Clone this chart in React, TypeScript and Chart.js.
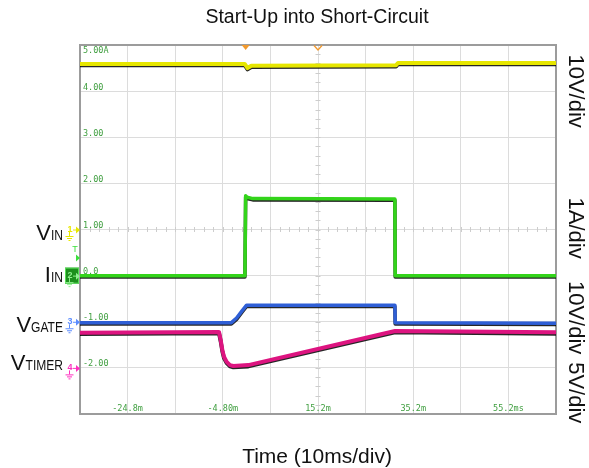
import React, { useEffect, useRef } from "react";
import { Chart, registerables } from "chart.js";

Chart.register(...registerables);

// ---------- data (time in ms, amplitude in screen divisions of the 1A/div channel) ----------
const title = "Start-Up into Short-Circuit";
const xAxisTitle = "Time (10ms/div)";

const xMin = -34.8;
const xMax = 65.2;
const yMin = -3;
const yMax = 5;

const xGridValues = [-34.8, -24.8, -14.8, -4.8, 5.2, 15.2, 25.2, 35.2, 45.2, 55.2, 65.2];
const xTickValues = [-24.8, -4.8, 15.2, 35.2, 55.2];
const xTickLabels = ["-24.8m", "-4.80m", "15.2m", "35.2m", "55.2ms"];
const yTickValues = [5, 4, 3, 2, 1, 0, -1, -2];
const yTickLabels = ["5.00A", "4.00", "3.00", "2.00", "1.00", "0.0", "-1.00", "-2.00"];

const rightLabels = ["10V/div", "1A/div", "10V/div", "5V/div"];
const rightLabelLevels = [4.0, 1.03, -0.91, -2.54];

const vinTime = [-34.8, -0.2, 0.4, 1.2, 31.6, 32.0, 65.2];
const vinValues = [4.59, 4.59, 4.5, 4.55, 4.56, 4.61, 4.61];

const iinTime = [-34.8, -0.15, 0.0, 0.3, 1.5, 31.35, 31.42, 65.2];
const iinValues = [0.0, 0.0, 1.73, 1.7, 1.67, 1.66, 0.0, 0.0];

const vgateTime = [-34.8, -3.0, -1.9, -0.8, 0.2, 31.35, 31.42, 65.2];
const vgateValues = [-1.02, -1.02, -0.92, -0.77, -0.64, -0.64, -1.02, -1.03];

const vtimerTime = [-34.8, -5.6, -5.24, -4.9, -4.55, -3.98, -3.29, -2.59, 0.56, 31.38, 65.2];
const vtimerValues = [-1.24, -1.22, -1.4, -1.61, -1.76, -1.87, -1.94, -1.96, -1.94, -1.2, -1.23];

const channelNames = ["1", "2", "3", "4"];
const channelLevels = [1, 0, -1, -2];
const triggerLevel = 0.38;
const triggerTime = 0;
const centerTime = 15.2;

// ---------- styles ----------
const FONT = '"Liberation Sans", Arial, Helvetica, sans-serif';
const MONO = '"DejaVu Sans Mono", "Liberation Mono", monospace';
const YELLOW = "#e6e600";
const GREEN = "#33d41a";
const BLUE = "#2f5fd6";
const MAGENTA = "#dd1480";
const channelColors = ["#e8e800", "#22bb22", "#5b8cff", "#ff30c0"];
const LABEL_GREEN = "#3f9e3f";

const traceShadow = {
  id: "traceShadow",
  beforeDatasetDraw(chart: any) {
    const c = chart.ctx;
    c.save();
    c.shadowColor = "rgba(0,0,0,0.85)";
    c.shadowOffsetX = 0;
    c.shadowOffsetY = 1.3;
    c.shadowBlur = 0;
  },
  afterDatasetDraw(chart: any) {
    chart.ctx.restore();
  },
};

function drawSubLabel(ctx: CanvasRenderingContext2D, main: string, sub: string, rightX: number, baseline: number) {
  ctx.save();
  ctx.fillStyle = "#111";
  ctx.textBaseline = "alphabetic";
  ctx.textAlign = "left";
  const sx = 0.86;
  ctx.font = `22px ${FONT}`;
  const wm = ctx.measureText(main).width;
  ctx.font = `14px ${FONT}`;
  const ws = ctx.measureText(sub).width * sx;
  const start = rightX - wm - ws;
  ctx.font = `22px ${FONT}`;
  ctx.fillText(main, start, baseline);
  ctx.font = `14px ${FONT}`;
  ctx.translate(start + wm, baseline);
  ctx.scale(sx, 1);
  ctx.fillText(sub, 0, 0);
  ctx.restore();
}

function drawGround(ctx: CanvasRenderingContext2D, x: number, y: number) {
  ctx.beginPath();
  ctx.moveTo(x, y);
  ctx.lineTo(x, y + 4);
  ctx.moveTo(x - 4, y + 4.5);
  ctx.lineTo(x + 4, y + 4.5);
  ctx.moveTo(x - 2.5, y + 6.5);
  ctx.lineTo(x + 2.5, y + 6.5);
  ctx.moveTo(x - 1, y + 8.5);
  ctx.lineTo(x + 1, y + 8.5);
  ctx.stroke();
}

const decor = {
  id: "scopeDecor",
  beforeDatasetsDraw(chart: any) {
    const { ctx, chartArea: a, scales } = chart;
    const xs = scales.x;
    const ys = scales.y;
    ctx.save();
    // minor ticks on the centre lines
    const cx = xs.getPixelForValue(centerTime);
    const cy = ys.getPixelForValue(1);
    ctx.strokeStyle = "#cdcdcd";
    ctx.lineWidth = 1;
    ctx.beginPath();
    const w = a.right - a.left;
    const h = a.bottom - a.top;
    for (let i = 1; i < 50; i++) {
      const px = Math.round(a.left + (i * w) / 50) + 0.5;
      ctx.moveTo(px, cy - 2.5);
      ctx.lineTo(px, cy + 2.5);
    }
    for (let j = 1; j < 40; j++) {
      const py = Math.round(a.top + (j * h) / 40) + 0.5;
      ctx.moveTo(cx - 2.5, py);
      ctx.lineTo(cx + 2.5, py);
    }
    ctx.stroke();
    // frame
    ctx.strokeStyle = "#9c9c9c";
    ctx.lineWidth = 2;
    ctx.strokeRect(a.left, a.top, w, h);
    // green scale labels
    ctx.fillStyle = LABEL_GREEN;
    ctx.font = `8.5px ${MONO}`;
    ctx.textAlign = "left";
    ctx.textBaseline = "alphabetic";
    yTickValues.forEach((v, i) => {
      const py = ys.getPixelForValue(v);
      const base = i === 0 ? py + 8 : py - 1.5;
      ctx.fillText(yTickLabels[i], a.left + 3, base);
    });
    ctx.textAlign = "center";
    xTickValues.forEach((v, i) => {
      ctx.fillText(xTickLabels[i], xs.getPixelForValue(v), a.bottom - 3);
    });
    ctx.restore();
  },
  afterDraw(chart: any) {
    const { ctx, chartArea: a, scales } = chart;
    const xs = scales.x;
    const ys = scales.y;
    ctx.save();
    // trigger markers on top
    const tx = xs.getPixelForValue(triggerTime);
    ctx.fillStyle = "#f29a2e";
    ctx.beginPath();
    ctx.moveTo(tx - 4, a.top);
    ctx.lineTo(tx + 4, a.top);
    ctx.lineTo(tx, a.top + 5);
    ctx.closePath();
    ctx.fill();
    const mx = xs.getPixelForValue(centerTime);
    ctx.strokeStyle = "#f29a2e";
    ctx.lineWidth = 1.3;
    ctx.beginPath();
    ctx.moveTo(mx - 4, a.top + 0.5);
    ctx.lineTo(mx, a.top + 5);
    ctx.lineTo(mx + 4, a.top + 0.5);
    ctx.stroke();

    // channel markers
    channelNames.forEach((name, i) => {
      const py = ys.getPixelForValue(channelLevels[i]);
      const col = channelColors[i];
      if (i === 1) {
        ctx.fillStyle = "#1d8f1d";
        ctx.fillRect(a.left - 15, py - 8, 14, 16);
        ctx.strokeStyle = "#56e056";
        ctx.lineWidth = 1;
        ctx.strokeRect(a.left - 14.5, py - 7.5, 13, 15);
      }
      const fg = i === 1 ? "#8ff08f" : col;
      ctx.fillStyle = fg;
      ctx.strokeStyle = fg;
      ctx.lineWidth = 1;
      ctx.font = `bold 9px ${FONT}`;
      ctx.textAlign = "center";
      ctx.textBaseline = "alphabetic";
      ctx.fillText(name, a.left - 10, py + 2);
      ctx.beginPath();
      ctx.moveTo(a.left - 7, py + 0.5);
      ctx.lineTo(a.left - 1, py + 0.5);
      ctx.stroke();
      ctx.beginPath();
      ctx.moveTo(a.left - 4, py - 3);
      ctx.lineTo(a.left, py + 0.5);
      ctx.lineTo(a.left - 4, py + 4);
      ctx.closePath();
      ctx.fill();
      drawGround(ctx, a.left - 10.5, py + 2.5);
    });
    // trigger level marker
    const ty = ys.getPixelForValue(triggerLevel);
    ctx.fillStyle = "#3be03b";
    ctx.strokeStyle = "#3be03b";
    ctx.font = `9px ${FONT}`;
    ctx.textAlign = "center";
    ctx.fillText("T", a.left - 5, ty - 6);
    ctx.beginPath();
    ctx.moveTo(a.left - 4, ty - 3.5);
    ctx.lineTo(a.left, ty);
    ctx.lineTo(a.left - 4, ty + 3.5);
    ctx.closePath();
    ctx.fill();

    // left signal names
    drawSubLabel(ctx, "V", "IN", 63, ys.getPixelForValue(channelLevels[0]) + 10);
    drawSubLabel(ctx, "I", "IN", 63, ys.getPixelForValue(channelLevels[1]) + 6);
    drawSubLabel(ctx, "V", "GATE", 63, ys.getPixelForValue(channelLevels[2]) + 10);
    drawSubLabel(ctx, "V", "TIMER", 63, ys.getPixelForValue(channelLevels[3]) + 2);

    // right rotated scale labels
    ctx.fillStyle = "#111";
    ctx.font = `22px ${FONT}`;
    ctx.textAlign = "center";
    ctx.textBaseline = "alphabetic";
    rightLabels.forEach((t, i) => {
      const py = ys.getPixelForValue(rightLabelLevels[i]);
      ctx.save();
      ctx.translate(569, py);
      ctx.rotate(Math.PI / 2);
      ctx.fillText(t, 0, 0);
      ctx.restore();
    });

    // title and axis title
    ctx.font = `19.5px ${FONT}`;
    ctx.fillText(title, (a.left + a.right) / 2 - 1, 23);
    ctx.font = `21px ${FONT}`;
    ctx.fillText(xAxisTitle, (a.left + a.right) / 2 - 1, 463);
    ctx.restore();
  },
};

const toPoints = (t: number[], v: number[]) => t.map((x, i) => ({ x, y: v[i] }));

export default function App() {
  const ref = useRef<HTMLCanvasElement | null>(null);
  useEffect(() => {
    document.body.style.margin = "0";
    const canvas = ref.current;
    if (!canvas) return;
    const mk = (label: string, t: number[], v: number[], color: string, width: number) => ({
      label,
      data: toPoints(t, v),
      borderColor: color,
      backgroundColor: color,
      borderWidth: width,
      pointRadius: 0,
      tension: 0,
      fill: false,
      borderJoinStyle: "round" as const,
      borderCapStyle: "butt" as const,
    });
    const chart = new Chart(canvas, {
      type: "line",
      data: {
        datasets: [
          mk("VTIMER", vtimerTime, vtimerValues, MAGENTA, 4),
          mk("VGATE", vgateTime, vgateValues, BLUE, 3.5),
          mk("IIN", iinTime, iinValues, GREEN, 3.5),
          mk("VIN", vinTime, vinValues, YELLOW, 4),
        ],
      },
      options: {
        responsive: false,
        animation: false,
        events: [],
        layout: { padding: { left: 80, top: 45, right: 33, bottom: 54 } },
        plugins: { legend: { display: false }, tooltip: { enabled: false }, title: { display: false } },
        scales: {
          x: {
            type: "linear",
            min: xMin,
            max: xMax,
            afterBuildTicks: (s: any) => {
              s.ticks = xGridValues.map((value) => ({ value }));
            },
            ticks: { display: false },
            grid: { color: "#dcdcdc", lineWidth: 1, drawTicks: false },
            border: { display: false },
          },
          y: {
            type: "linear",
            min: yMin,
            max: yMax,
            ticks: { display: false, stepSize: 1 },
            grid: { color: "#dcdcdc", lineWidth: 1, drawTicks: false },
            border: { display: false },
          },
        },
      },
      plugins: [traceShadow, decor],
    });
    return () => chart.destroy();
  }, []);
  return (
    <div style={{ width: 589, height: 468 }}>
      <canvas ref={ref} width={589} height={468} style={{ display: "block" }} />
    </div>
  );
}
